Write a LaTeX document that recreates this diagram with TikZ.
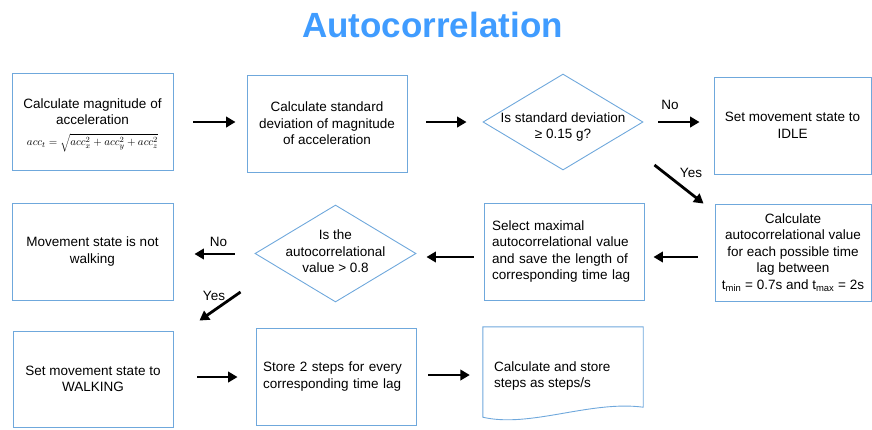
\documentclass[tikz,border=0pt]{standalone}
\usepackage{fontspec}
\setmainfont{Liberation Sans}
\usetikzlibrary{arrows.meta,shapes.geometric,calc}
\definecolor{titleblue}{RGB}{64,156,255}
\definecolor{edgeblue}{RGB}{111,168,220}
\begin{document}
\begin{tikzpicture}[x=1pt,y=-1pt,
  box/.style={draw=edgeblue,line width=0.9pt,rectangle,inner sep=0pt,align=center,font=\fontsize{13.5}{16.5}\selectfont},
  dia/.style={draw=edgeblue,line width=0.9pt,diamond,inner sep=0pt},
  txt/.style={inner sep=0pt,align=center,font=\fontsize{13.5}{16.5}\selectfont},
  arr/.style={line width=2.8pt,-{Triangle[length=9.5pt,width=10.5pt]}},
  lbl/.style={inner sep=0pt,font=\fontsize{13.5}{16.5}\selectfont}]
\useasboundingbox (0,0) rectangle (872,429);

\node[anchor=base,inner sep=0pt,text=titleblue,font=\fontsize{35}{40}\selectfont\bfseries] (T) at (432.5,37) {Autocorrelation};

% row 1
\node[box,minimum width=161pt,minimum height=97pt] (A) at (92.5,121.5) {};
\node[txt] (At) at (92.5,111.5) {Calculate magnitude of\\acceleration};
\node[inner sep=0pt,font=\fontsize{11}{13}\selectfont] (Af) at (92.5,143)
  {$acc_t=\sqrt{acc_x^2+acc_y^2+acc_z^2}$};
\node[box,minimum width=160pt,minimum height=97pt] (B) at (327,123.5)
  {Calculate standard\\deviation of magnitude\\of acceleration};
\node[dia,minimum width=160pt,minimum height=96pt] (C) at (563,122) {};
\node[txt] (Ct) at (563,127) {Is standard deviation\\≥ 0.15 g?};
\node[box,minimum width=157pt,minimum height=97pt] (D) at (792.5,125.5)
  {Set movement state to\\IDLE};

% row 2
\node[box,minimum width=156pt,minimum height=97pt] (E) at (793,252.5)
  {Calculate\\autocorrelational value\\for each possible time\\lag between\\t\textsubscript{min} = 0.7s and t\textsubscript{max} = 2s};
\node[box,minimum width=160pt,minimum height=97pt,text width=144pt,align=left] (F) at (564,251.5)
  {Select maximal\\autocorrelational value\\and save the length of\\corresponding time lag};
\node[dia,minimum width=161pt,minimum height=97pt] (G) at (335.5,253.5) {};
\node[txt] (Gt) at (335.5,251.5) {Is the\\autocorrelational\\value > 0.8};
\node[box,minimum width=161pt,minimum height=97pt] (H) at (92.5,251.5)
  {Movement state is not\\walking};

% row 3
\node[box,minimum width=160pt,minimum height=96pt] (I) at (93,379)
  {Set movement state to\\WALKING};
\node[box,minimum width=160pt,minimum height=97pt,text width=146pt,align=left] (J) at (336,376.5)
  {Store 2 steps for every\\corresponding time lag};
\node[rectangle,inner sep=0pt,minimum width=160pt,minimum height=90pt] (K) at (563,372) {};
\draw[draw=edgeblue,line width=0.9pt] (K.south west) -- (K.north west) -- (K.north east)
  -- ($(K.south east)+(0,-10)$) .. controls ($(K.south east)+(-53,-17)$) and ($(K.south west)+(47,11)$) .. (K.south west) -- cycle;
\node[txt,anchor=west,align=left] (Kt) at (494,376) {Calculate and store\\steps as steps/s};

% arrows
\draw[arr] ($(A.east)+(20,0.5)$) -- ($(B.west)+(-11,-1.5)$);
\draw[arr] ($(B.east)+(19,-1.5)$) -- ($(C.west)+(-16,0)$);
\draw[arr] ($(C.east)+(15,0)$) -- ($(D.west)+(-14,-3.5)$);
\node[lbl] (no1) at (670,105) {No};
\draw[arr] ($(C.east)+(11,43)$) -- ($(E.north west)+(-11,0)$);
\node[lbl] (yes1) at (691,173) {Yes};
\draw[arr] ($(E.west)+(-17,4.5)$) -- ($(F.east)+(9,5.5)$);
\draw[arr] ($(F.west)+(-10,5.5)$) -- ($(G.east)+(10,3.5)$);
\draw[arr] ($(G.west)+(-20,0.5)$) -- ($(H.east)+(21,2.5)$);
\node[lbl] (no2) at (218.5,242) {No};
\draw[arr] ($(G.west)+(-14,38.5)$) -- ($(I.north east)+(26,-10)$);
\node[lbl] (yes2) at (214,296) {Yes};
\draw[arr] ($(I.east)+(24,-2)$) -- ($(J.west)+(-18,0.5)$);
\draw[arr] ($(J.east)+(12,-1.5)$) -- ($(K.west)+(-13,3)$);
\end{tikzpicture}
\end{document}
